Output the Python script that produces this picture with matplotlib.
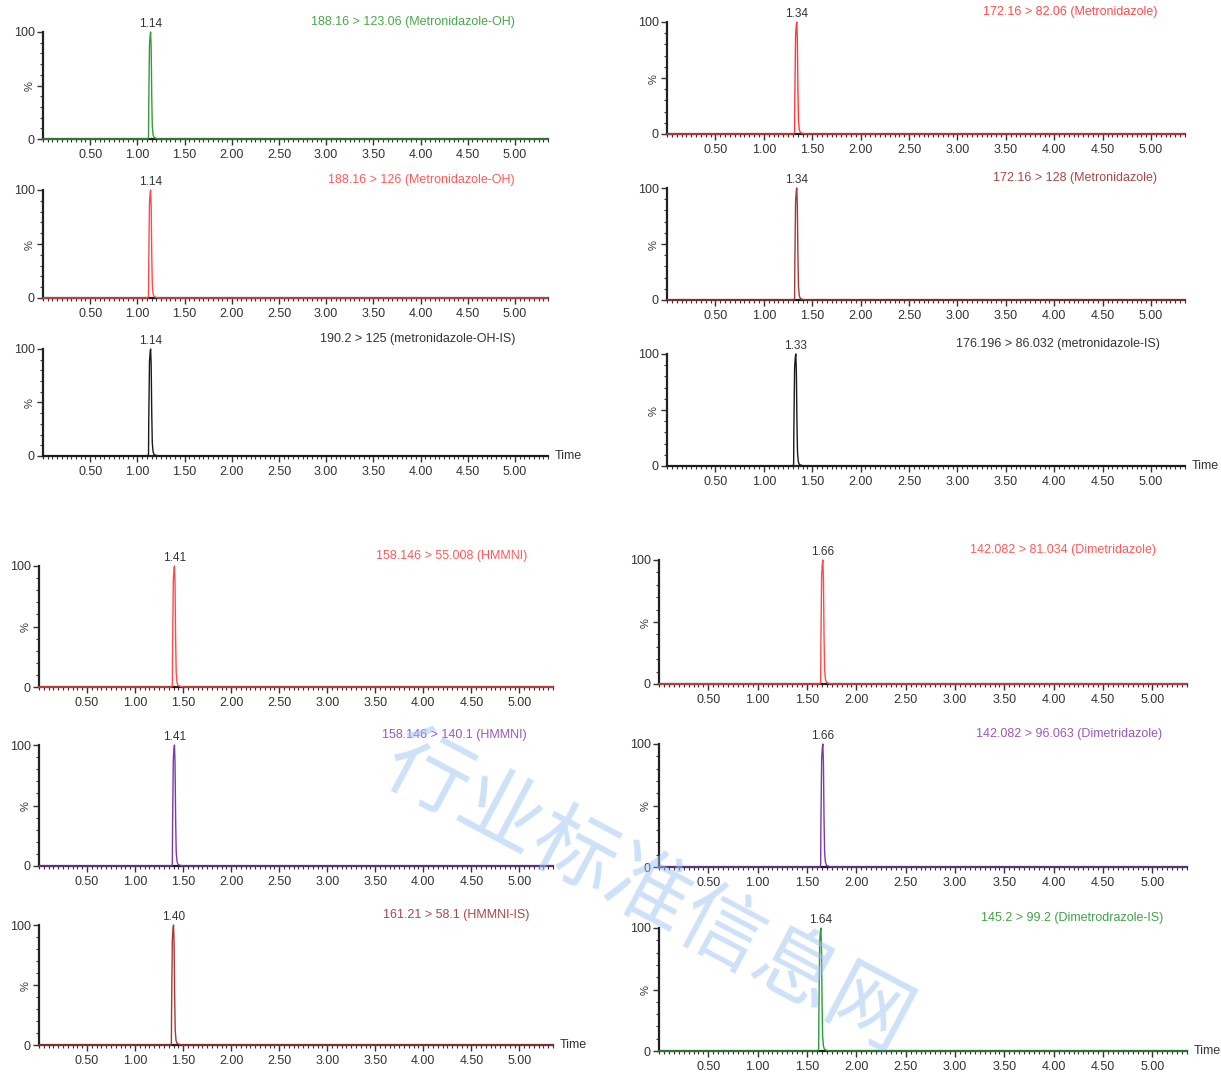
import matplotlib
matplotlib.use("Agg")
import matplotlib.pyplot as plt
from matplotlib.ticker import MultipleLocator
import numpy as np

# ---------------- data ----------------
transitions = [
    "188.16 > 123.06 (Metronidazole-OH)",
    "188.16 > 126 (Metronidazole-OH)",
    "190.2 > 125 (metronidazole-OH-IS)",
    "172.16 > 82.06 (Metronidazole)",
    "172.16 > 128 (Metronidazole)",
    "176.196 > 86.032 (metronidazole-IS)",
    "158.146 > 55.008 (HMMNI)",
    "158.146 > 140.1 (HMMNI)",
    "161.21 > 58.1 (HMMNI-IS)",
    "142.082 > 81.034 (Dimetridazole)",
    "142.082 > 96.063 (Dimetridazole)",
    "145.2 > 99.2 (Dimetrodrazole-IS)",
]
retention_times = [1.14, 1.14, 1.14, 1.34, 1.34, 1.33, 1.41, 1.41, 1.40, 1.66, 1.66, 1.64]
peak_labels = ["1.14", "1.14", "1.14", "1.34", "1.34", "1.33",
               "1.41", "1.41", "1.40", "1.66", "1.66", "1.64"]
# relative peak profile (offset from apex in min, % intensity)
profile_dt = [-0.045, -0.028, -0.022, -0.020, -0.012, -0.005, 0.000, 0.006, 0.012, 0.018, 0.026, 0.036, 0.050, 0.070, 0.100]
profile_y = [0.0, 0.0, 2.0, 30.0, 88.0, 97.0, 100.0, 85.0, 40.0, 12.0, 4.0, 1.5, 0.8, 0.3, 0.0]
run_start, run_end = 0.0, 5.35

line_colors = ["#3a9a3a", "#ff4a4a", "#1a1a1a", "#ff3a3a", "#a83838", "#1a1a1a",
               "#ff4a4a", "#7a3aa8", "#a83838", "#ff4a4a", "#7a3aa8", "#2e9a3a"]
text_colors = ["#4aa84a", "#ff5a5a", "#333333", "#ff4a4a", "#a84848", "#333333",
               "#ff5a5a", "#9a58b8", "#a84848", "#ff5a5a", "#9a58b8", "#44a048"]

xtick_vals = [0.5, 1.0, 1.5, 2.0, 2.5, 3.0, 3.5, 4.0, 4.5, 5.0]
xtick_labels = ["0.50", "1.00", "1.50", "2.00", "2.50", "3.00", "3.50", "4.00", "4.50", "5.00"]
ytick_vals = [0, 50, 100]
ytick_labels = ["0", "%", "100"]

# ---------------- layout (pixel boxes: left, top, right, bottom) ----------------
W, H = 1221, 1075
boxes = [
    (43, 32, 548, 139), (43, 190, 548, 298), (43, 349, 548, 456),
    (667, 22, 1185, 134), (667, 188, 1185, 300), (667, 354, 1185, 466),
    (39, 566, 553, 687), (39, 745, 553, 866), (39, 925, 553, 1045),
    (659, 560, 1187, 684), (659, 744, 1187, 867), (659, 928, 1187, 1051),
]
title_right = [5.0, 5.0, 5.0, 5.06, 5.06, 5.09, 5.08, 5.08, 5.1, 5.04, 5.1, 5.11]
show_time = [False, False, True, False, False, True, False, False, True, False, False, True]

plt.rcParams["font.family"] = ["Liberation Sans", "DejaVu Sans"]
fig = plt.figure(figsize=(W / 100, H / 100), dpi=100)

for i, (l, t, r, b) in enumerate(boxes):
    ax = fig.add_axes([l / W, 1 - b / H, (r - l) / W, (b - t) / H])
    rt = retention_times[i]
    x = np.concatenate([[run_start], rt + np.array(profile_dt), [run_end]])
    y = np.concatenate([[0.0], profile_y, [0.0]])
    ax.plot(x, y, color=line_colors[i], lw=1.0, zorder=5, clip_on=False)
    ax.set_xlim(run_start, run_end)
    ax.set_ylim(0, 100)
    for s in ("top", "right"):
        ax.spines[s].set_visible(False)
    for s in ("left", "bottom"):
        ax.spines[s].set_linewidth(1.6)
        ax.spines[s].set_color("#222222")
    ax.set_xticks(xtick_vals)
    ax.set_xticklabels(xtick_labels)
    ax.xaxis.set_minor_locator(MultipleLocator(0.05))
    ax.set_yticks(ytick_vals)
    ax.set_yticklabels(ytick_labels)
    ax.yaxis.set_minor_locator(MultipleLocator(10))
    ax.tick_params(axis="both", which="major", direction="out", length=4, width=1.0,
                   labelsize=9, colors="#333333", pad=2)
    ax.tick_params(axis="both", which="minor", direction="out", length=2.5, width=0.8,
                   colors="#333333")
    ax.tick_params(axis="x", which="major", pad=3)
    ax.get_yticklabels()[1].set_rotation(90)
    ax.get_yticklabels()[1].set_fontsize(8)
    ax.annotate(peak_labels[i], (rt, 100), xytext=(0, 6), textcoords="offset points",
                ha="center", va="center", fontsize=8.5, color="#333333")
    ax.annotate(transitions[i], (title_right[i], 100), xytext=(0, 7), textcoords="offset points",
                ha="right", va="center", fontsize=9, color=text_colors[i])
    if show_time[i]:
        ax.annotate("Time", (1.0, 0.0), xycoords="axes fraction", xytext=(5, 0),
                    textcoords="offset points", ha="left", va="center",
                    fontsize=9, color="#333333")

# watermark
fig.text(648 / W, 1 - 893 / H, "行业标准信息网", fontsize=60, rotation=-28,
         rotation_mode="anchor", ha="center", va="center", color="#9cc3f2", alpha=0.5,
         family=["Noto Sans CJK SC", "DejaVu Sans"], zorder=10)

fig.savefig("out.png", dpi=100)
